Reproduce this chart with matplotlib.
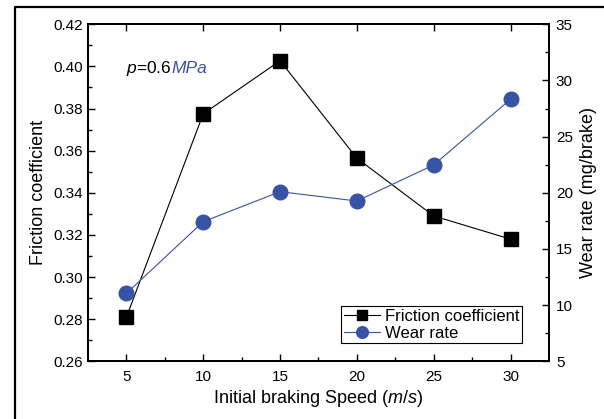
import matplotlib
matplotlib.use('Agg')
from matplotlib import pyplot as plt
from matplotlib.lines import Line2D

plt.rcParams['font.family'] = 'Liberation Sans'
plt.rcParams['mathtext.fontset'] = 'custom'
plt.rcParams['mathtext.rm'] = 'Liberation Sans'
plt.rcParams['mathtext.it'] = 'Liberation Sans:italic'

speed = [5, 10, 15, 20, 25, 30]
friction = [0.281, 0.3775, 0.4027, 0.3564, 0.329, 0.318]
wear = [11.05, 17.43, 20.1, 19.27, 22.48, 28.33]

blue = '#3953a4'

fig = plt.figure(figsize=(6.04, 4.19), dpi=100)
ax1 = fig.add_axes([0.1457, 0.1377, 0.7632, 0.8043])
ax2 = ax1.twinx()

l1, = ax1.plot(speed, friction, color='black', lw=0.8, marker='s', markersize=9.5,
               label='Friction coefficient')
l2, = ax2.plot(speed, wear, color=blue, lw=0.8, marker='o', markersize=10.5,
               label='Wear rate')

ax1.set_xlim(2.5, 32.5)
ax1.set_ylim(0.26, 0.42)
ax2.set_ylim(5, 35)
ax1.set_xticks([5, 10, 15, 20, 25, 30])
ax1.set_xticks([7.5, 12.5, 17.5, 22.5, 27.5], minor=True)
ax1.set_yticks([0.26, 0.28, 0.30, 0.32, 0.34, 0.36, 0.38, 0.40, 0.42])
ax1.set_yticks([0.27, 0.29, 0.31, 0.33, 0.35, 0.37, 0.39, 0.41], minor=True)
ax2.set_yticks([5, 10, 15, 20, 25, 30, 35])
ax2.set_yticks([7.5, 12.5, 17.5, 22.5, 27.5, 32.5], minor=True)

ax1.tick_params(axis='both', which='both', direction='in', labelsize=11, width=1)
ax1.tick_params(axis='both', which='major', length=5)
ax1.tick_params(axis='both', which='minor', length=3)
ax1.tick_params(axis='y', pad=3.5)
ax1.tick_params(axis='x', pad=6, top=True, which='major')
ax2.tick_params(axis='y', which='both', direction='in', labelsize=11, width=1, pad=5)
ax2.tick_params(axis='y', which='major', length=5)
ax2.tick_params(axis='y', which='minor', length=3)

for ax in (ax1, ax2):
    for s in ax.spines.values():
        s.set_linewidth(1.4)

ax1.set_yticklabels(['%.2f' % v for v in ax1.get_yticks()])

ax1.set_xlabel('Initial braking Speed ($\\it{m/s}$)', fontsize=13, labelpad=3)
ax1.set_ylabel('Friction coefficient', fontsize=13, labelpad=5)
ax2.set_ylabel('Wear rate (mg/brake)', fontsize=13, labelpad=5)

# "p=0.6" in black, "MPa" in blue, on one baseline
t = ax1.text(4.95, 0.397, '$\\it{p}$=0.6', fontsize=12.5, va='baseline', ha='left')
fig.canvas.draw()
bb = t.get_window_extent()
x_disp, y_disp = ax1.transData.transform((4.95, 0.397))
ax1.text(bb.x1, y_disp, 'MPa', transform=None, fontsize=12.5, va='baseline',
         ha='left', color=blue, style='italic')

leg = ax2.legend(handles=[l1, l2], loc='lower left', bbox_to_anchor=(0.549, 0.054),
                 borderaxespad=0, fontsize=12, fancybox=False, framealpha=1,
                 edgecolor='black', borderpad=0.15, labelspacing=0.1,
                 handlelength=2.2, handletextpad=0.3, markerscale=0.8)
leg.get_frame().set_linewidth(0.8)

# outer frame around the figure (cut off at right and bottom)
fig.add_artist(Line2D([15 / 604, 15 / 604, 1], [0, 1 - 7 / 419, 1 - 7 / 419],
                      transform=fig.transFigure, color='black', lw=1.6))

fig.savefig('out.png', dpi=100)
